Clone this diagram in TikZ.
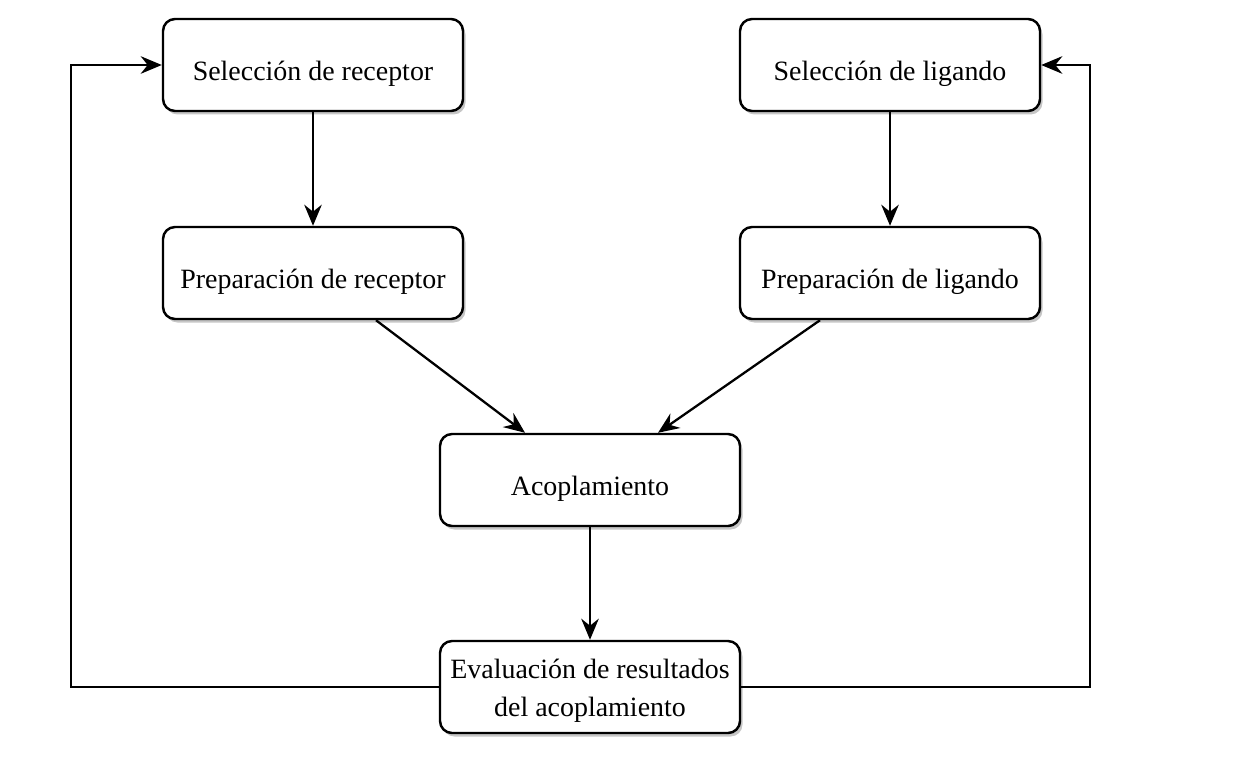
\documentclass[tikz,border=0pt]{standalone}
\usepackage{fontspec}
\setmainfont{Liberation Serif}
\usetikzlibrary{arrows.meta,shadows}

\tikzset{
    paso/.style={draw,line width=1.4pt,rounded corners=0.24cm,fill=white,
        minimum width=6cm,minimum height=1.84cm,align=center,
        text height=0.74cm,text depth=0.12cm,
        font=\fontsize{15.9}{21.6}\selectfont,
        drop shadow={shadow xshift=0.05cm,shadow yshift=-0.07cm,opacity=0.45}},
    flecha/.style={->,line width=1.3pt},
}

\begin{document}
\begin{tikzpicture}[>={Stealth[length=12pt,width=10pt,inset=4pt]}]
    \useasboundingbox (0,0) rectangle (24.66,15.2);
 %   \coordinate (izq) at (1.42,1.46);

    \node[paso] (selR) at (6.26,13.9) {Selección de receptor};
    \node[paso] (selL) at (17.8,13.9) {Selección de ligando};
    \node[paso] (prepR) at (6.26,9.74) {Preparación de receptor};
    \node[paso] (prepL) at (17.8,9.74) {Preparación de ligando};
    \node[paso] (acop) at (11.8,5.6) {Acoplamiento};
    \node[paso,text height=1.3cm] (eval) at (11.8,1.46) {Evaluación de resultados\\del acoplamiento};

    \coordinate (izqA) at (1.42,1.46);
    \coordinate (izqB) at (1.42,13.9);
    \coordinate (derA) at (21.8,1.46);
    \coordinate (derB) at (21.8,13.9);

    \draw[flecha] (selR) -- (prepR);
    \draw[flecha] (selL) -- (prepL);
    \draw[flecha] ([xshift=1.26cm]prepR.south) -- ([xshift=-1.3cm]acop.north);
    \draw[flecha] ([xshift=-1.4cm]prepL.south) -- ([xshift=1.36cm]acop.north);
    \draw[flecha] (acop) -- (eval);
    \draw[flecha] (eval.west) -- (izqA) -- (izqB) -- (selR.west);
    \draw[flecha] (eval.east) -- (derA) -- (derB) -- (selL.east);

\end{tikzpicture}
\end{document}
